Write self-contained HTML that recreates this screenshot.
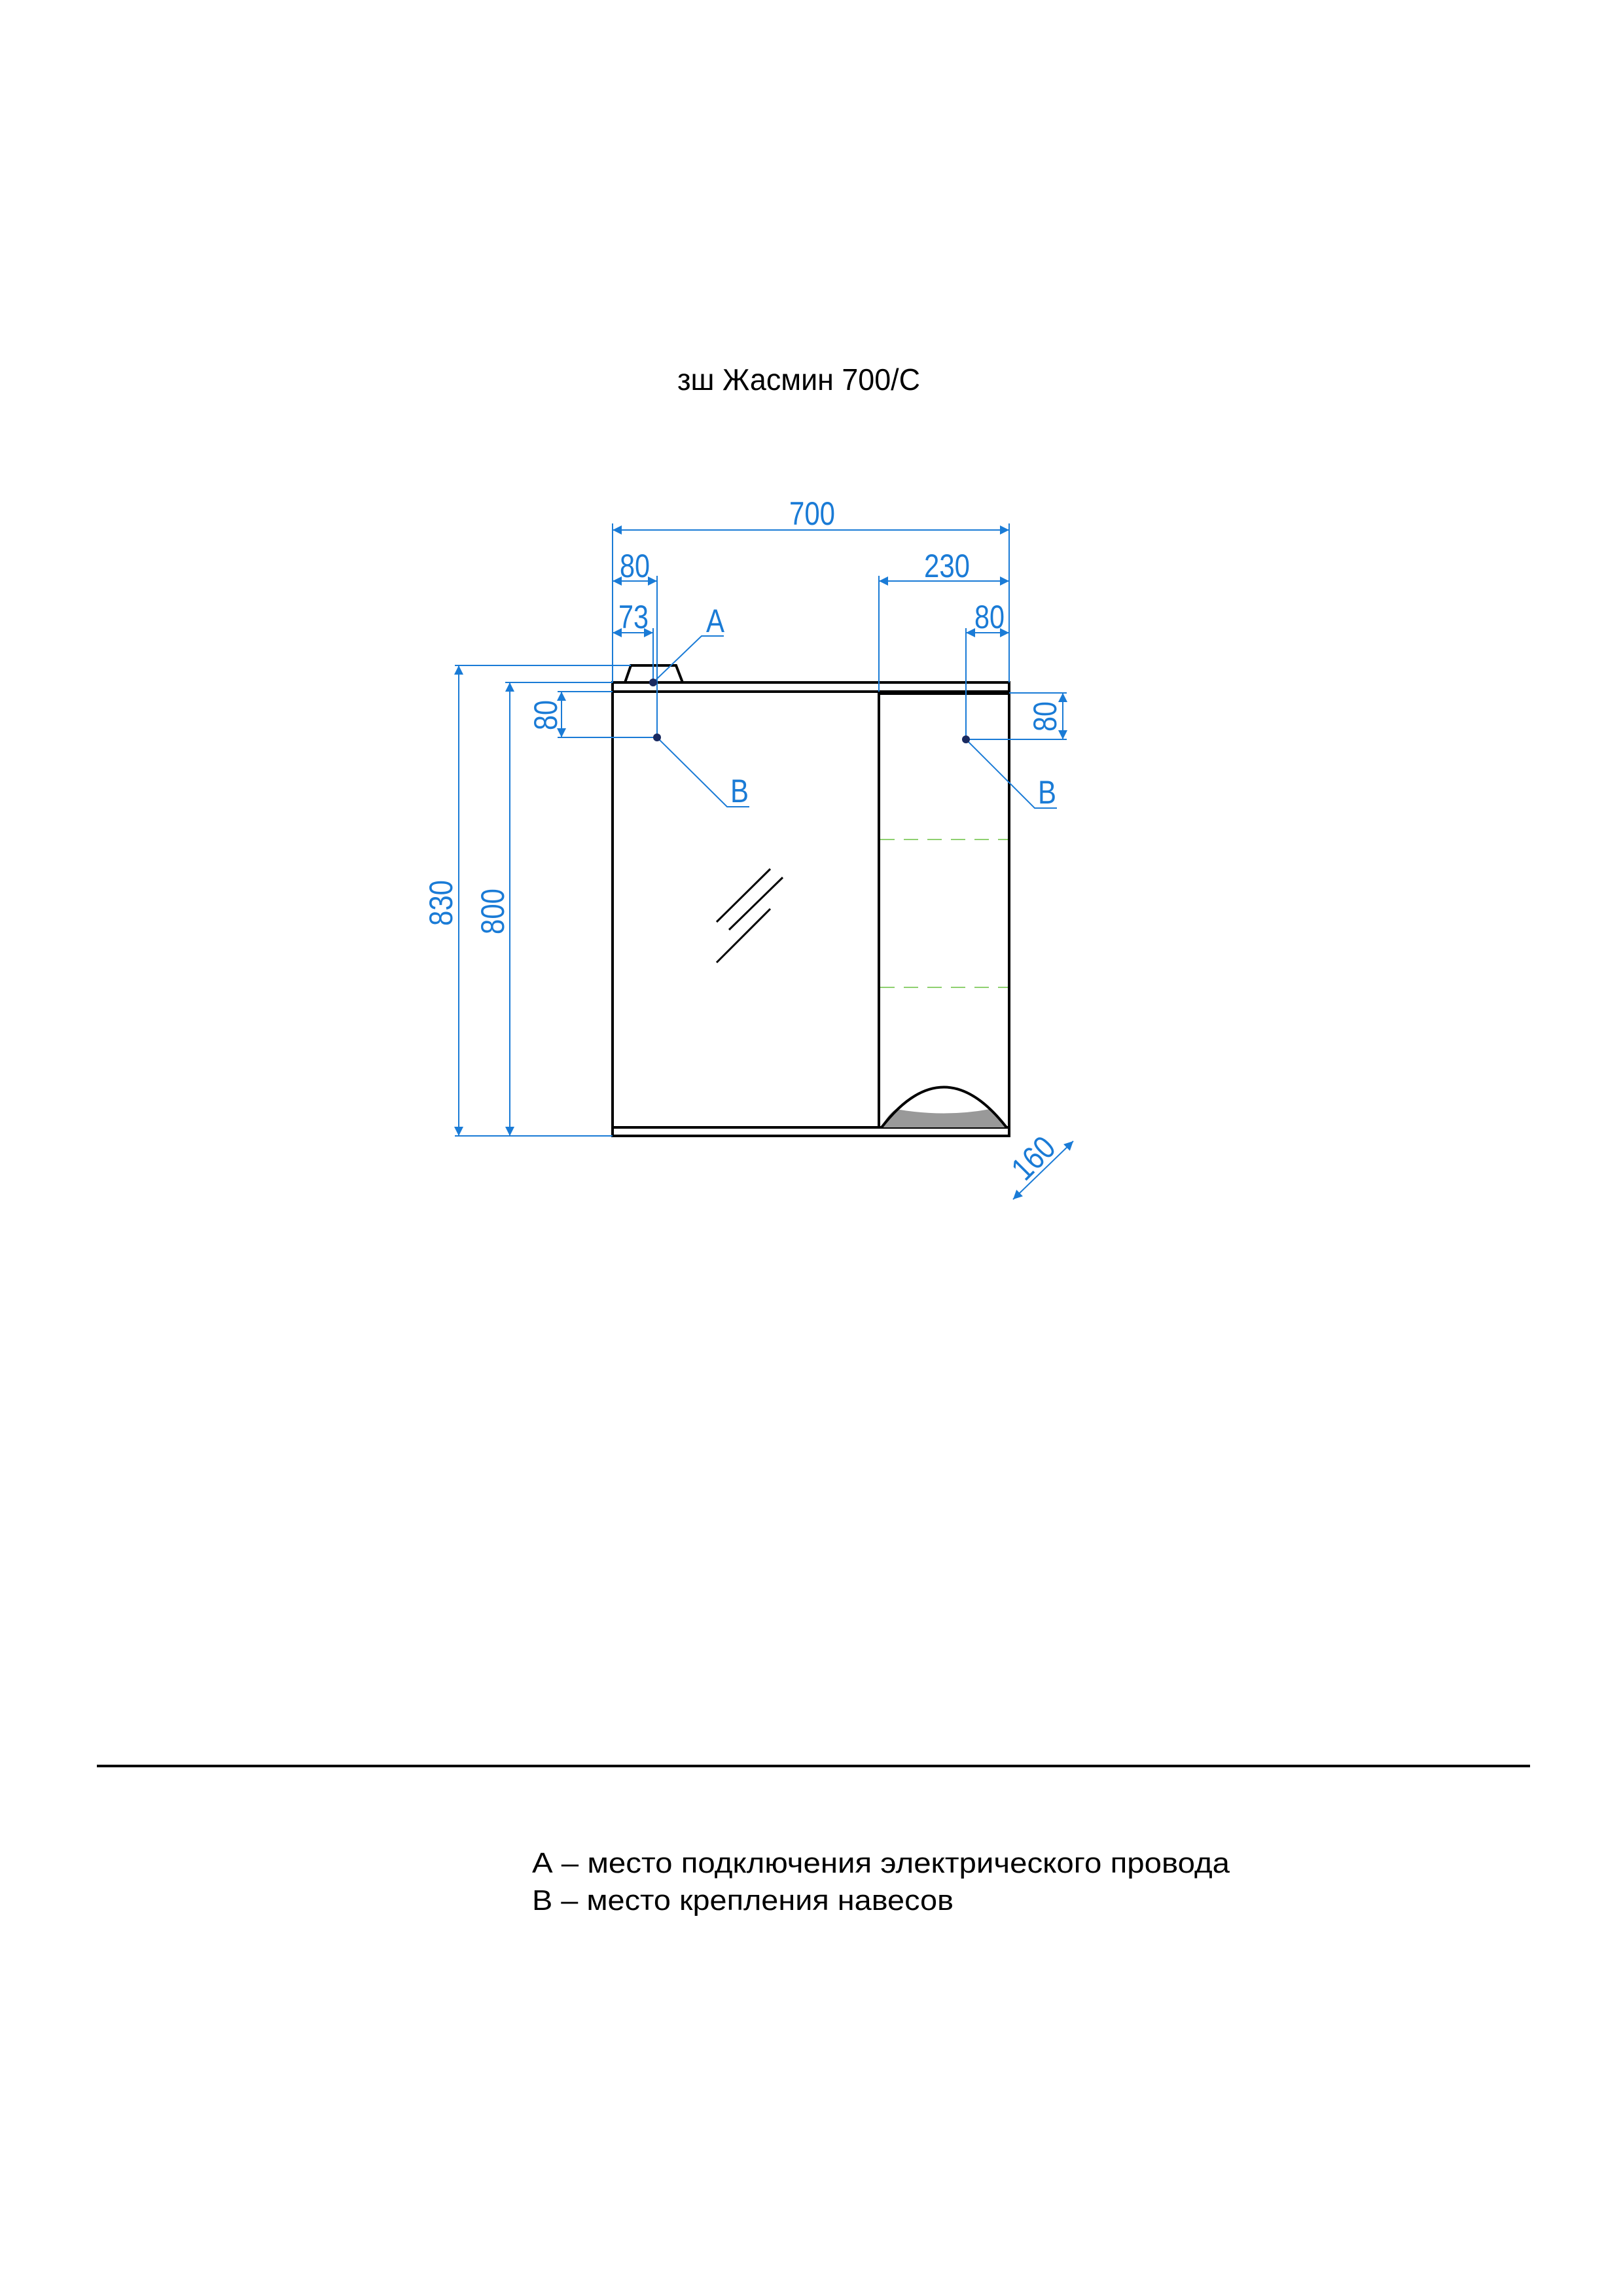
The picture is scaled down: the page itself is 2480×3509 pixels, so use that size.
<!DOCTYPE html>
<html><head><meta charset="utf-8"><style>
html,body{margin:0;padding:0;background:#fff;}
svg{display:block;}
.d{font-family:"Liberation Sans Narrow","Liberation Sans",sans-serif;fill:#1a7bd6;font-size:50px;}
.t{font-family:"Liberation Sans Narrow","Liberation Sans","Noto Sans CJK SC",sans-serif;fill:#000;}
</style></head><body>
<svg width="2480" height="3509" viewBox="0 0 2480 3509" xmlns="http://www.w3.org/2000/svg">
<defs>
<marker id="ar" viewBox="0 0 10 10" refX="10" refY="5" markerWidth="22" markerHeight="14" markerUnits="userSpaceOnUse" orient="auto-start-reverse"><path d="M0,0 L10,5 L0,10 z" fill="#1a7bd6"/></marker>
</defs>
<text class="t" x="1035" y="596" font-size="46" textLength="371" lengthAdjust="spacingAndGlyphs">зш Жасмин 700/С</text>

<g stroke="#000" stroke-width="4" fill="none">
<rect x="936" y="1043" width="606" height="693"/>
<line x1="936" y1="1057" x2="1542" y2="1057"/>
<line x1="1343" y1="1060" x2="1542" y2="1060"/>
<line x1="936" y1="1723" x2="1542" y2="1723"/>
<line x1="1343" y1="1057" x2="1343" y2="1723"/>
<path d="M955,1043 L964,1017 L1033,1017 L1043,1043"/>
<line x1="1095" y1="1409" x2="1177" y2="1328" stroke-width="3"/>
<line x1="1114" y1="1421" x2="1196" y2="1341" stroke-width="3"/>
<line x1="1095" y1="1471" x2="1177" y2="1389" stroke-width="3"/>
</g>
<path d="M1347,1723 Q1355,1705 1369,1695 Q1443,1708 1513,1695 Q1530,1707 1538,1723 Z" fill="#999"/>
<path d="M1347,1723 Q1442,1600 1538,1723" stroke="#000" stroke-width="4" fill="none"/>
<g stroke="#8fd070" stroke-width="2" stroke-dasharray="22,14">
<line x1="1345" y1="1283" x2="1540" y2="1283"/>
<line x1="1345" y1="1509" x2="1540" y2="1509"/>
</g>

<g stroke="#1a7bd6" stroke-width="2" fill="none">
<line x1="936" y1="800" x2="936" y2="1043"/>
<line x1="1542" y1="800" x2="1542" y2="1043"/>
<line x1="936" y1="810" x2="1542" y2="810" marker-start="url(#ar)" marker-end="url(#ar)"/>
<line x1="1004" y1="880" x2="1004" y2="1127"/>
<line x1="936" y1="888" x2="1004" y2="888" marker-start="url(#ar)" marker-end="url(#ar)"/>
<line x1="998" y1="960" x2="998" y2="1043"/>
<line x1="936" y1="967" x2="998" y2="967" marker-start="url(#ar)" marker-end="url(#ar)"/>
<line x1="1343" y1="880" x2="1343" y2="1057"/>
<line x1="1343" y1="888" x2="1542" y2="888" marker-start="url(#ar)" marker-end="url(#ar)"/>
<line x1="1476" y1="960" x2="1476" y2="1130"/>
<line x1="1476" y1="967" x2="1542" y2="967" marker-start="url(#ar)" marker-end="url(#ar)"/>
<polyline points="998,1043 1072,972 1106,972"/>
<polyline points="1004,1127 1111,1233 1145,1233"/>
<polyline points="1476,1130 1581,1235 1615,1235"/>
<line x1="695" y1="1017" x2="964" y2="1017"/>
<line x1="772" y1="1043" x2="936" y2="1043"/>
<line x1="695" y1="1736" x2="936" y2="1736"/>
<line x1="701" y1="1017" x2="701" y2="1736" marker-start="url(#ar)" marker-end="url(#ar)"/>
<line x1="779" y1="1043" x2="779" y2="1736" marker-start="url(#ar)" marker-end="url(#ar)"/>
<line x1="852" y1="1057" x2="936" y2="1057"/>
<line x1="852" y1="1127" x2="1004" y2="1127"/>
<line x1="858" y1="1057" x2="858" y2="1127" marker-start="url(#ar)" marker-end="url(#ar)"/>
<line x1="1542" y1="1059" x2="1630" y2="1059"/>
<line x1="1476" y1="1130" x2="1630" y2="1130"/>
<line x1="1624" y1="1059" x2="1624" y2="1130" marker-start="url(#ar)" marker-end="url(#ar)"/>
<line x1="1548" y1="1833" x2="1640" y2="1744" marker-start="url(#ar)" marker-end="url(#ar)"/>
</g>
<g fill="#1a2a60">
<circle cx="998" cy="1043" r="6"/>
<circle cx="1004" cy="1127" r="6"/>
<circle cx="1476" cy="1130" r="6"/>
</g>
<g class="d" text-anchor="middle" lengthAdjust="spacingAndGlyphs">
<text x="1241" y="802" textLength="70" lengthAdjust="spacingAndGlyphs">700</text>
<text x="970" y="882" textLength="46" lengthAdjust="spacingAndGlyphs">80</text>
<text x="1447" y="882" textLength="70" lengthAdjust="spacingAndGlyphs">230</text>
<text x="968" y="960" textLength="46" lengthAdjust="spacingAndGlyphs">73</text>
<text x="1512" y="960" textLength="46" lengthAdjust="spacingAndGlyphs">80</text>
<text x="1093" y="966" textLength="28" lengthAdjust="spacingAndGlyphs">A</text>
<text x="1130" y="1226" textLength="28" lengthAdjust="spacingAndGlyphs">B</text>
<text x="1600" y="1228" textLength="28" lengthAdjust="spacingAndGlyphs">B</text>
<text transform="translate(691,1380) rotate(-90)" textLength="70" lengthAdjust="spacingAndGlyphs">830</text>
<text transform="translate(770,1393) rotate(-90)" textLength="70" lengthAdjust="spacingAndGlyphs">800</text>
<text transform="translate(851,1093) rotate(-90)" textLength="46" lengthAdjust="spacingAndGlyphs">80</text>
<text transform="translate(1614,1095) rotate(-90)" textLength="46" lengthAdjust="spacingAndGlyphs">80</text>
<text transform="translate(1591,1782) rotate(-45)" textLength="70" lengthAdjust="spacingAndGlyphs">160</text>
</g>

<line x1="148" y1="2699" x2="2338" y2="2699" stroke="#000" stroke-width="4"/>
<text class="t" x="813" y="2862" font-size="44" textLength="1066" lengthAdjust="spacingAndGlyphs">А – место подключения электрического провода</text>
<text class="t" x="813" y="2919" font-size="44" textLength="644" lengthAdjust="spacingAndGlyphs">В – место крепления навесов</text>
</svg>
</body></html>
